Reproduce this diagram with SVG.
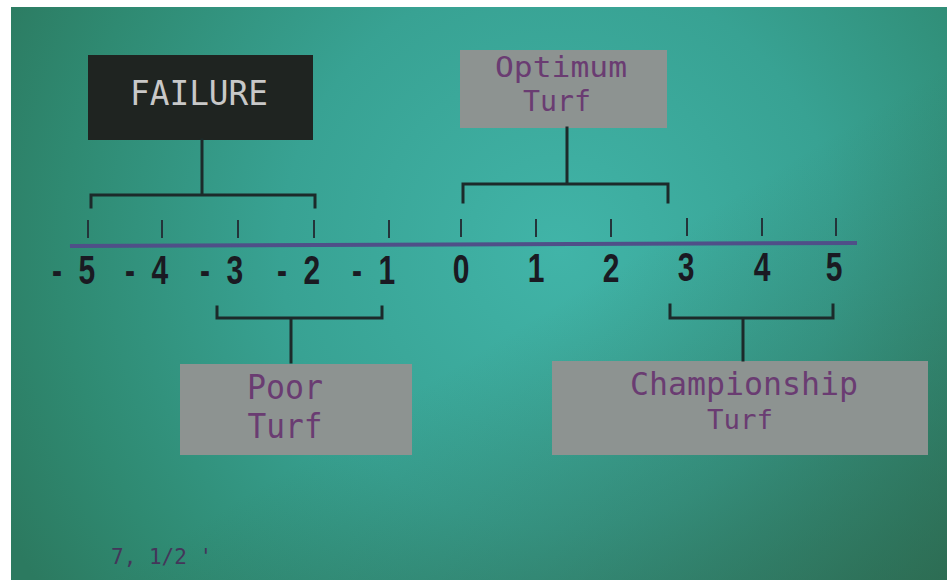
<svg xmlns="http://www.w3.org/2000/svg" width="950" height="580" viewBox="0 0 950 580">
<defs>
<radialGradient id="bg" cx="560" cy="250" r="620" gradientUnits="userSpaceOnUse">
<stop offset="0" stop-color="#41b4a8"/>
<stop offset="0.45" stop-color="#38a293"/>
<stop offset="0.8" stop-color="#2f8a72"/>
<stop offset="1" stop-color="#2c7a60"/>
</radialGradient>
<linearGradient id="br" x1="0" y1="0" x2="1" y2="1">
<stop offset="0.55" stop-color="#2c5a40" stop-opacity="0"/>
<stop offset="1" stop-color="#2c5a40" stop-opacity="0.6"/>
</linearGradient>
<style>
.conn{stroke:#1c2a2a;stroke-width:3;fill:none;stroke-linecap:square}
.tick{stroke:#24343a;stroke-width:2;fill:none}
.axis{stroke:#4f4f88;stroke-width:4;fill:none}
.gbox{fill:#8d9391}
.lbl{font-family:"DejaVu Sans Mono","Liberation Mono",monospace;fill:#6a3c72;text-anchor:middle}
.num{font-family:"Liberation Sans",Arial,sans-serif;font-weight:bold;font-size:40px;fill:#1a1a22}
</style>
</defs>
<rect x="0" y="0" width="950" height="580" fill="#ffffff"/>
<rect x="11" y="7" width="936" height="573" fill="url(#bg)"/>
<rect x="11" y="7" width="936" height="573" fill="url(#br)"/>

<g id="failure">
<rect x="88" y="55" width="225" height="85" fill="#1f2421"/>
<text x="199" y="105" font-family="DejaVu Sans Mono, Liberation Mono, monospace" font-size="34" fill="#c8c8c8" text-anchor="middle" textLength="138" lengthAdjust="spacingAndGlyphs">FAILURE</text>
</g>

<g id="optimum">
<rect class="gbox" x="460" y="50" width="207" height="78"/>
<text class="lbl" x="561" y="77" font-size="28" textLength="132" lengthAdjust="spacingAndGlyphs">Optimum</text>
<text class="lbl" x="557" y="111" font-size="28" textLength="68" lengthAdjust="spacingAndGlyphs">Turf</text>
</g>

<g id="poor">
<rect class="gbox" x="180" y="364" width="232" height="91" fill="#8b8f8d"/>
<text class="lbl" x="285" y="399" font-size="33" textLength="76" lengthAdjust="spacingAndGlyphs">Poor</text>
<text class="lbl" x="285" y="438" font-size="33" textLength="75" lengthAdjust="spacingAndGlyphs">Turf</text>
</g>

<g id="championship">
<rect class="gbox" x="552" y="361" width="376" height="94" fill="#8b8c8a"/>
<text class="lbl" x="744" y="395" font-size="32" textLength="228" lengthAdjust="spacingAndGlyphs">Championship</text>
<text class="lbl" x="740" y="429" font-size="27" textLength="66" lengthAdjust="spacingAndGlyphs">Turf</text>
</g>

<g id="scale">
<line class="axis" x1="70" y1="246" x2="857" y2="243"/>
<g class="ticks">
<line class="tick" x1="88" y1="220" x2="88" y2="238"/>
<line class="tick" x1="162" y1="220" x2="162" y2="238"/>
<line class="tick" x1="238" y1="220" x2="238" y2="238"/>
<line class="tick" x1="314" y1="220" x2="314" y2="238"/>
<line class="tick" x1="389" y1="220" x2="389" y2="238"/>
<line class="tick" x1="461" y1="219" x2="461" y2="237"/>
<line class="tick" x1="536" y1="219" x2="536" y2="237"/>
<line class="tick" x1="611" y1="219" x2="611" y2="237"/>
<line class="tick" x1="687" y1="218" x2="687" y2="236"/>
<line class="tick" x1="762" y1="218" x2="762" y2="236"/>
<line class="tick" x1="836" y1="218" x2="836" y2="236"/>
</g>
<g class="nums">
<text class="num" transform="translate(52,284) scale(0.75,1)">-<tspan dx="22">5</tspan></text>
<text class="num" transform="translate(125,284) scale(0.75,1)">-<tspan dx="22">4</tspan></text>
<text class="num" transform="translate(200,284) scale(0.75,1)">-<tspan dx="22">3</tspan></text>
<text class="num" transform="translate(277,284) scale(0.75,1)">-<tspan dx="22">2</tspan></text>
<text class="num" transform="translate(352,284) scale(0.75,1)">-<tspan dx="22">1</tspan></text>
<text class="num" text-anchor="middle" transform="translate(461,283) scale(0.75,1)">0</text>
<text class="num" text-anchor="middle" transform="translate(536,282) scale(0.75,1)">1</text>
<text class="num" text-anchor="middle" transform="translate(611,282) scale(0.75,1)">2</text>
<text class="num" text-anchor="middle" transform="translate(686,281) scale(0.75,1)">3</text>
<text class="num" text-anchor="middle" transform="translate(762,281) scale(0.75,1)">4</text>
<text class="num" text-anchor="middle" transform="translate(834,281) scale(0.75,1)">5</text>
</g>
</g>

<g id="connectors">
<path class="conn" d="M202,140 V195 M91,207 V195 H315 V207"/>
<path class="conn" d="M567,128 V184 M463,202 V184 H668 V202"/>
<path class="conn" d="M217,307 V318 H382 V307 M291,318 V362"/>
<path class="conn" d="M670,305 V318 H833 V305 M743,318 V360"/>
</g>

<text x="111" y="564" font-family="DejaVu Sans Mono, Liberation Mono, monospace" font-size="21" fill="#44365a">7, 1/2 '</text>
</svg>
